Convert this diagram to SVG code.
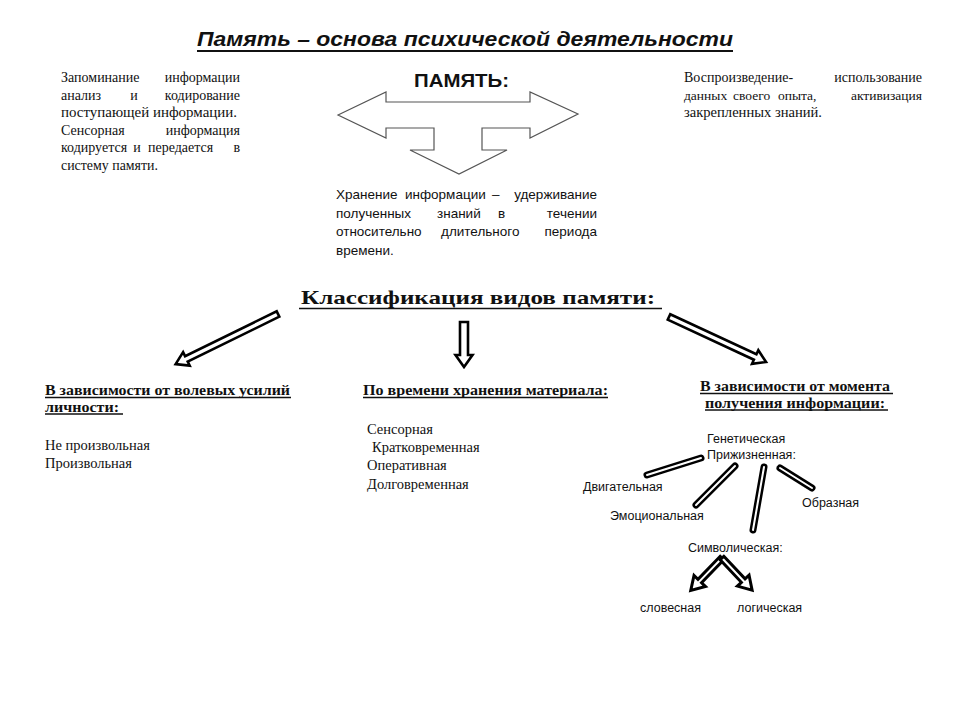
<svg xmlns="http://www.w3.org/2000/svg" width="960" height="720" viewBox="0 0 960 720">
<style>
.serif{font-family:"Liberation Serif","Times New Roman",serif;font-size:14px;fill:#111}
.serifl{font-family:"Liberation Serif","Times New Roman",serif;font-size:14.5px;fill:#111}
.serifb{font-family:"Liberation Serif","Times New Roman",serif;font-size:14px;font-weight:bold;fill:#111}
.sans{font-family:"Liberation Sans",Arial,sans-serif;font-size:12.5px;fill:#111}
.sansm{font-family:"Liberation Sans",Arial,sans-serif;font-size:13.5px;fill:#111}
.ul{stroke:#111;stroke-width:1.3}
.harrow{fill:#fff;stroke:#000;stroke-width:2.6;stroke-linejoin:miter}
.capo{stroke:#000;stroke-width:7;stroke-linecap:round}
.capi{stroke:#fff;stroke-width:2;stroke-linecap:round}
</style>
<rect width="960" height="720" fill="#fff"/>

<g id="title">
<text x="197" y="46" textLength="536" lengthAdjust="spacingAndGlyphs" style="font-family:'Liberation Sans',Arial,sans-serif;font-size:21px;font-weight:bold;font-style:italic;fill:#111">Память – основа психической деятельности</text>
<line x1="197" y1="51" x2="733" y2="51" stroke="#111" stroke-width="2"/>
</g>

<g id="memory">
<text x="414" y="87" textLength="95" lengthAdjust="spacingAndGlyphs" style="font-family:'Liberation Sans',Arial,sans-serif;font-size:18px;font-weight:bold;fill:#111">ПАМЯТЬ:</text>
<polygon points="338,115 386,92 386,102 530,102 530,92 578,114 530,138 530,128 482,128 482,150 507,150 459,174 410,150 434,150 434,128 386,128 386,138" fill="#fff" stroke="#555" stroke-width="1.2" stroke-linejoin="miter"/>
</g>

<g id="memorize">
<text class="serif" x="61" y="82">Запоминание</text>
<text class="serif" x="240" y="82" text-anchor="end">информации</text>
<text class="serif" x="61" y="99.5">анализ</text>
<text class="serif" x="134" y="99.5" text-anchor="middle">и</text>
<text class="serif" x="240" y="99.5" text-anchor="end">кодирование</text>
<text class="serif" x="61" y="117" textLength="176" lengthAdjust="spacingAndGlyphs">поступающей информации.</text>
<text class="serif" x="61" y="134.5">Сенсорная</text>
<text class="serif" x="240" y="134.5" text-anchor="end">информация</text>
<text class="serif" x="61" y="152">кодируется</text>
<text class="serif" x="137" y="152" text-anchor="middle">и</text>
<text class="serif" x="148" y="152">передается</text>
<text class="serif" x="240" y="152" text-anchor="end">в</text>
<text class="serif" x="61" y="169.5" textLength="97" lengthAdjust="spacingAndGlyphs">систему памяти.</text>
</g>

<g id="reproduce">
<text class="serif" x="684" y="82">Воспроизведение-</text>
<text class="serif" x="922" y="82" text-anchor="end">использование</text>
<text class="serif" x="684" y="99.5" style="font-size:13.5px">данных</text>
<text class="serif" x="733" y="99.5" style="font-size:13.5px">своего</text>
<text class="serif" x="778" y="99.5" style="font-size:13.5px">опыта,</text>
<text class="serif" x="922" y="99.5" text-anchor="end" style="font-size:13.5px">активизация</text>
<text class="serif" x="684" y="117" textLength="138" lengthAdjust="spacingAndGlyphs">закрепленных знаний.</text>
</g>

<g id="storage">
<text class="sansm" x="336" y="199">Хранение</text>
<text class="sansm" x="405" y="199">информации</text>
<text class="sansm" x="492" y="199">–</text>
<text class="sansm" x="597" y="199" text-anchor="end">удерживание</text>
<text class="sansm" x="336" y="217.5">полученных</text>
<text class="sansm" x="437" y="217.5">знаний</text>
<text class="sansm" x="498" y="217.5">в</text>
<text class="sansm" x="597" y="217.5" text-anchor="end">течении</text>
<text class="sansm" x="336" y="236">относительно</text>
<text class="sansm" x="441" y="236">длительного</text>
<text class="sansm" x="597" y="236" text-anchor="end">периода</text>
<text class="sansm" x="336" y="254.5">времени.</text>
</g>

<g id="classification">
<text x="301" y="304" textLength="354" lengthAdjust="spacingAndGlyphs" style="font-family:'Liberation Serif','Times New Roman',serif;font-size:19px;font-weight:bold;fill:#111">Классификация видов памяти:</text>
<line x1="299" y1="308.5" x2="662" y2="308.5" stroke="#111" stroke-width="1.6"/>
</g>

<g id="connectors">
<polygon class="harrow" points="0,-3 102,-3 102,-7.5 114,0 102,7.5 102,3 0,3" transform="translate(278,314) rotate(153.9)"/>
<polygon class="harrow" points="0,-4 33,-4 33,-8.5 45,0 33,8.5 33,4 0,4" transform="translate(464,322) rotate(90)"/>
<polygon class="harrow" points="0,-3 95,-3 95,-7.5 107,0 95,7.5 95,3 0,3" transform="translate(669,317) rotate(24.9)"/>
<line class="capo" x1="647" y1="475" x2="701" y2="458"/>
<line class="capi" x1="647" y1="475" x2="701" y2="458"/>
<line class="capo" x1="696" y1="505" x2="735" y2="466"/>
<line class="capi" x1="696" y1="505" x2="735" y2="466"/>
<line class="capo" x1="753" y1="530" x2="764" y2="467"/>
<line class="capi" x1="753" y1="530" x2="764" y2="467"/>
<line class="capo" x1="780" y1="468" x2="812" y2="488"/>
<line class="capi" x1="780" y1="468" x2="812" y2="488"/>
<polygon class="harrow" points="0,-2.5 32,-2.5 32,-8 45,0 32,8 32,2.5 0,2.5" transform="translate(722,558) rotate(134)" style="stroke-width:3"/>
<polygon class="harrow" points="0,-2.5 31,-2.5 31,-8 44,0 31,8 31,2.5 0,2.5" transform="translate(722,558) rotate(46.8)" style="stroke-width:3"/>
</g>

<g id="volitional">
<text class="serifb" x="45" y="395" textLength="245" lengthAdjust="spacingAndGlyphs">В зависимости от волевых усилий</text>
<line class="ul" x1="45" y1="397.5" x2="291" y2="397.5"/>
<text class="serifb" x="45" y="411.5" textLength="74" lengthAdjust="spacingAndGlyphs">личности:</text>
<line class="ul" x1="45" y1="414" x2="123" y2="414"/>
<text class="serifl" x="45" y="450">Не произвольная</text>
<text class="serifl" x="45" y="468">Произвольная</text>
</g>

<g id="duration">
<text class="serifb" x="363" y="395" textLength="245" lengthAdjust="spacingAndGlyphs">По времени хранения материала:</text>
<line class="ul" x1="363" y1="397.5" x2="608" y2="397.5"/>
<text class="serifl" x="367" y="434">Сенсорная</text>
<text class="serifl" x="372" y="452">Кратковременная</text>
<text class="serifl" x="367" y="470">Оперативная</text>
<text class="serifl" x="367" y="489">Долговременная</text>
</g>

<g id="moment">
<text class="serifb" x="700" y="391" textLength="190" lengthAdjust="spacingAndGlyphs">В зависимости от момента</text>
<line class="ul" x1="700" y1="393.5" x2="893" y2="393.5"/>
<text class="serifb" x="705" y="407.5" textLength="180" lengthAdjust="spacingAndGlyphs">получения информации:</text>
<line class="ul" x1="705" y1="410" x2="888" y2="410"/>
</g>

<g id="genetic"><text class="sans" x="707" y="443">Генетическая</text></g>
<g id="lifetime"><text class="sans" x="707" y="459">Прижизненная:</text></g>
<g id="motor"><text class="sans" x="583" y="491">Двигательная</text></g>
<g id="emotional"><text class="sans" x="610" y="520">Эмоциональная</text></g>
<g id="figurative"><text class="sans" x="802" y="507">Образная</text></g>
<g id="symbolic"><text class="sans" x="688" y="552">Символическая:</text></g>
<g id="verbal"><text class="sans" x="640" y="612">словесная</text></g>
<g id="logical"><text class="sans" x="737" y="612">логическая</text></g>
</svg>
